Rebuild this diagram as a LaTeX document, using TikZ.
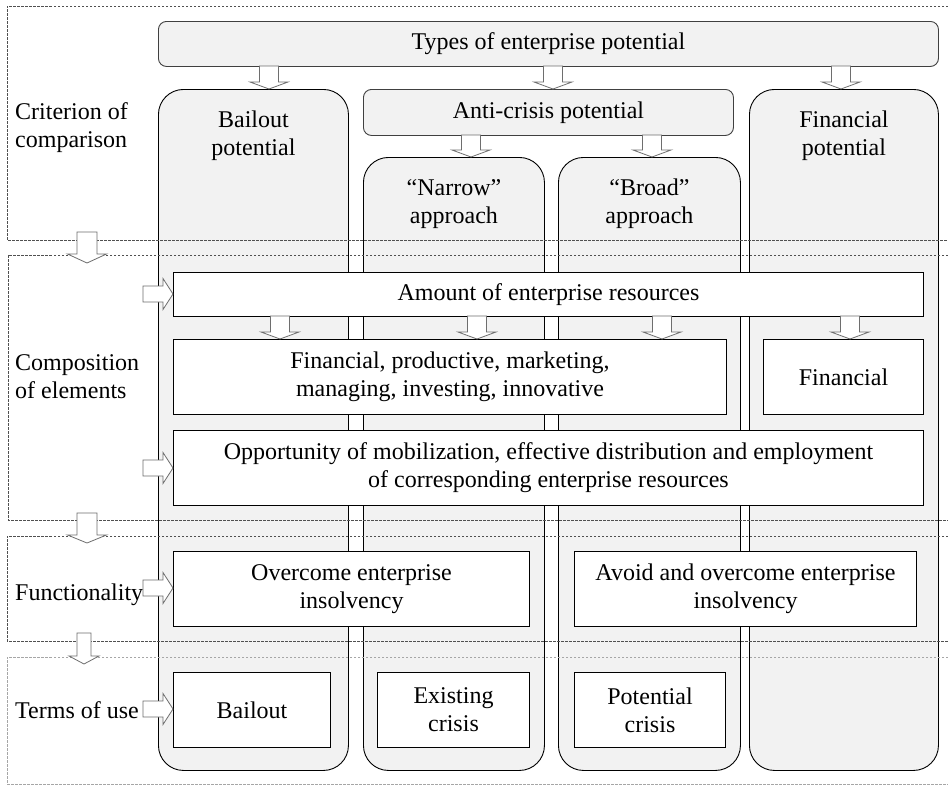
\documentclass[tikz,border=0pt]{standalone}
\usepackage{fontspec}
\setmainfont{Liberation Serif}
\usetikzlibrary{calc}
\definecolor{colgray}{HTML}{F2F2F2}
\definecolor{arrgray}{HTML}{6E6E6E}
\definecolor{dotgray}{HTML}{505050}
\tikzset{
  txt/.style={font=\fontsize{24}{28}\selectfont, align=center, inner sep=0pt},
  colbox/.style={draw=black, line width=0.9pt, fill=colgray, rounded corners=25pt, inner sep=0pt},
  topbox/.style={draw=black!75, line width=0.9pt, fill=colgray, rounded corners=8pt, txt},
  wbox/.style={draw=black, line width=1pt, fill=white, txt},
  lbl/.style={txt, align=left},
  barrow/.style={draw=arrgray, line width=0.8pt, fill=white, line join=miter},
  sect/.style={draw=dotgray, line width=0.8pt, dash pattern=on 2.5pt off 1.5pt},
}
% box placed by its corners
\newcommand\placebox[6]{\node[#1, anchor=north west, minimum width={#5-#3}, minimum height={#6-#4}] (#2) at (#3,#4)}
% downward block arrow: centre x, top y, tip y, shaft half width, head half width, head length
\newcommand\darrow[6]{\draw[barrow] (#1-#4,#2) -- (#1+#4,#2) -- (#1+#4,#3-#6) -- (#1+#5,#3-#6) -- (#1,#3) -- (#1-#5,#3-#6) -- (#1-#4,#3-#6) -- cycle;}
% rightward block arrow at centre y
\newcommand\rarrow[1]{\draw[barrow] (143,#1-8) -- (163,#1-8) -- (163,#1-15.5) -- (173,#1) -- (163,#1+15.5) -- (163,#1+8) -- (143,#1+8) -- cycle;}
\begin{document}
\begin{tikzpicture}[x=1pt,y=-1pt]
\useasboundingbox (0,0) rectangle (948,785);
\fill[white] (0,0) rectangle (948,785);

% columns
\placebox{colbox}{bail}{158}{89}{348}{770} {};
\placebox{colbox}{narrow}{363}{157}{544}{770} {};
\placebox{colbox}{broad}{558}{157}{740}{770} {};
\placebox{colbox}{finpot}{749}{89}{938}{770} {};
\node[txt] (bailT) at (bail.north |- 0,136) {Bailout\\potential};
\node[txt] (narrowT) at (narrow.north |- 0,204) {``Narrow''\\approach};
\node[txt] (broadT) at (broad.north |- 0,204) {``Broad''\\approach};
\node[txt] (finT) at (finpot.north |- 0,136) {Financial\\potential};

% top boxes
\placebox{topbox}{types}{158}{21}{938}{66} {Types of enterprise potential};
\placebox{topbox}{anti}{363}{89}{733}{135} {Anti-crisis potential};

% section frames
\draw[sect] (948,6) -- (7,6) -- (7,240) -- (948,240);
\draw[sect] (948,255) -- (8,255) -- (8,520) -- (948,520);
\draw[sect] (948,536) -- (7,536) -- (7,641) -- (948,641);
\draw[sect, draw=black!35] (948,657) -- (7,657) -- (7,784) -- (948,784);

% section labels
\node[lbl, anchor=west] (l1) at (15,128) {Criterion of\\comparison};
\node[lbl, anchor=west] (l2) at (15,377) {Composition\\of elements};
\node[lbl, anchor=base west] (l3) at (15,600) {Functionality};
\node[lbl, anchor=base west] (l4) at (15,718) {Terms of use};

% white boxes
\placebox{wbox}{amount}{173}{272}{923}{316} {Amount of enterprise resources};
\placebox{wbox}{fpm}{173}{339}{726}{414} {Financial, productive, marketing,\\managing, investing, innovative};
\placebox{wbox}{finb}{763}{339}{923}{414} {Financial};
\placebox{wbox}{opp}{173}{430}{923}{505} {Opportunity of mobilization, effective distribution and employment\\of corresponding enterprise resources};
\placebox{wbox}{overc}{173}{551}{529}{626} {Overcome enterprise\\insolvency};
\placebox{wbox}{avoid}{574}{551}{916}{626} {Avoid and overcome enterprise\\insolvency};
\placebox{wbox}{bailb}{173}{672}{330}{747} {Bailout};
\placebox{wbox}{exist}{377}{672}{529}{747} {Existing\\crisis};
\placebox{wbox}{potc}{574}{672}{725}{747} {Potential\\crisis};

% block arrows down
\darrow{269}{66}{89}{9.5}{19}{7}
\darrow{553}{66}{89}{9.5}{19}{7}
\darrow{841}{66}{89}{9.5}{19}{7}
\darrow{471}{135}{157}{9.5}{19}{7}
\darrow{652}{135}{157}{9.5}{19}{7}
\darrow{280}{316}{339}{9.5}{19}{7}
\darrow{477}{316}{339}{9.5}{19}{7}
\darrow{662}{316}{339}{9.5}{19}{7}
\darrow{850}{316}{339}{9.5}{19}{7}
% section arrows
\darrow{87}{232}{263}{10}{19.5}{9}
\darrow{87}{513}{543}{10}{19.5}{8}
\darrow{84}{633}{664}{7}{15}{8}
% right arrows
\rarrow{294}
\rarrow{468}
\rarrow{588}
\rarrow{709}
\end{tikzpicture}
\end{document}
